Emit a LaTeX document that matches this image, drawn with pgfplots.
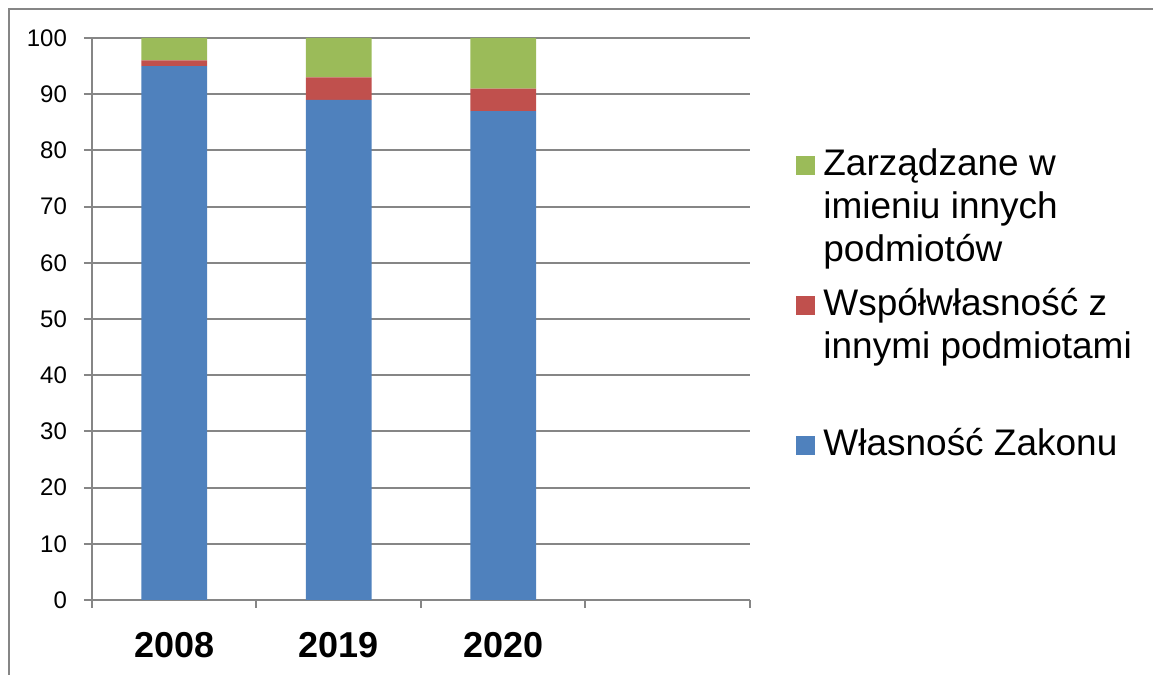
\documentclass[border=0pt]{standalone}
\usepackage{fontspec}
\setmainfont{Liberation Sans}
\usepackage{pgfplots}
\pgfplotsset{compat=1.18}

\definecolor{zblue}{RGB}{79,129,189}
\definecolor{zred}{RGB}{192,80,77}
\definecolor{zgreen}{RGB}{155,187,89}
\definecolor{gridgray}{RGB}{134,134,134}

\begin{document}
\begin{tikzpicture}[x=1pt,y=1pt]
% page = 1153x675 px at 0.5pt per px, origin at the axis corner
\useasboundingbox (-46,-37.5) rectangle (530.5,300);
\draw[gridgray, line width=1pt] (-41.5,-37.5) -- (-41.5,295.5) -- (530.5,295.5);
\begin{axis}[
    at={(0,0)}, anchor=south west,
    scale only axis,
    width=329pt, height=281pt,
    xmin=0, xmax=4,
    ymin=0, ymax=100,
    ybar stacked,
    bar width=0.4,
    axis x line*=bottom,
    axis y line*=left,
    axis line style={-, draw=gridgray, line width=1pt},
    ytick={0,10,...,100},
    xtick={0,1,2,3,4},
    xticklabels={},
    extra x ticks={0.5,1.5,2.5},
    extra x tick labels={2008,2019,2020},
    extra x tick style={major tick length=0pt, tick style={draw=none}},
    tick align=outside,
    major tick length=4pt,
    tick style={draw=gridgray, line width=1pt},
    ymajorgrids,
    major grid style={draw=gridgray, line width=1pt},
    yticklabel style={font=\fontsize{12}{14}\selectfont, xshift=-5pt,
        /pgf/number format/assume math mode=true},
    xticklabel style={font=\fontsize{18}{20}\selectfont\bfseries, yshift=-12.5pt},
    legend style={at={(axis description cs:1.0699,0.8096)}, anchor=north west,
        draw=none, fill=none, inner sep=0pt, row sep=0pt,
        nodes={inner sep=0pt},
        font=\fontsize{18.5}{21.5}\selectfont},
    legend cell align=left,
    legend style={cells={anchor=base west}},
    legend image code/.code={\fill[#1] (0pt,0pt) rectangle (9.5pt,9.5pt);},
    reverse legend,
]
\addplot[fill=zblue, draw=none] coordinates {(0.5,95) (1.5,89) (2.5,87)};
\addplot[fill=zred, draw=none] coordinates {(0.5,1) (1.5,4) (2.5,4)};
\addplot[fill=zgreen, draw=none] coordinates {(0.5,4) (1.5,7) (2.5,9)};
\addlegendentry[text height=15pt, text depth=55pt]{\hspace*{4pt}\parbox[t]{170pt}{\strut Własność Zakonu}}
\addlegendentry[text height=15pt, text depth=55pt]{\hspace*{4pt}\parbox[t]{170pt}{\strut Współwłasność z\\innymi podmiotami}}
\addlegendentry[text height=15pt, text depth=55pt]{\hspace*{4pt}\parbox[t]{170pt}{\strut Zarządzane w\\imieniu innych\\podmiotów}}
\end{axis}
\end{tikzpicture}
\end{document}
